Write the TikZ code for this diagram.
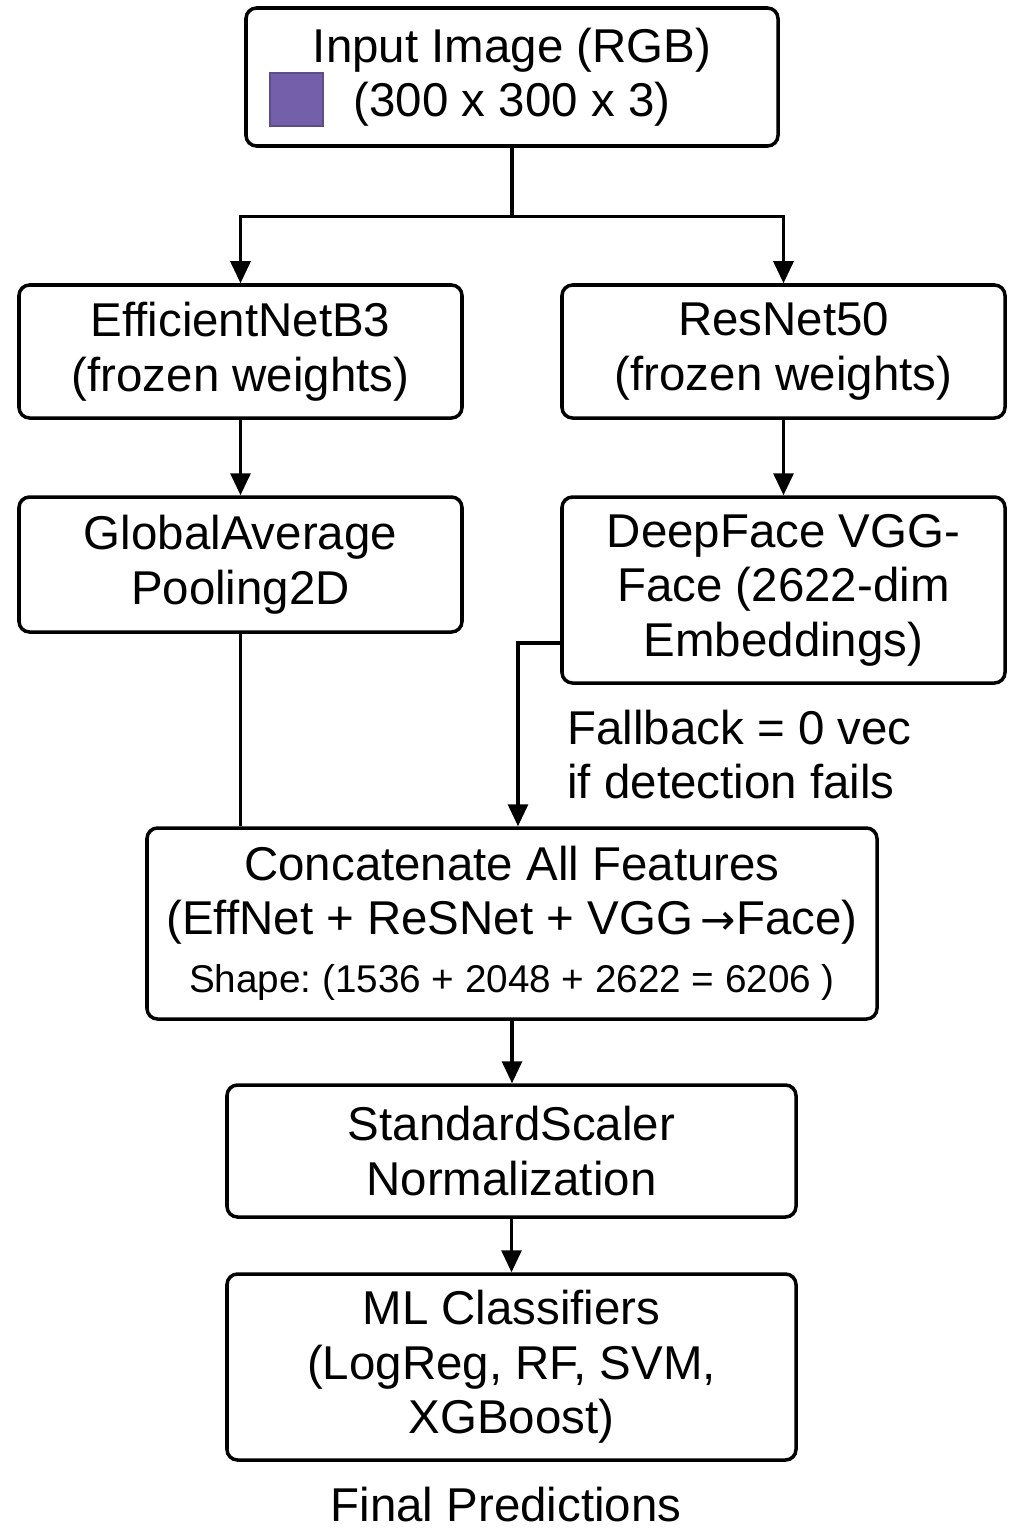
\documentclass[tikz,border=0pt]{standalone}
\usepackage{fontspec}
\setmainfont{Liberation Sans}
\newfontfamily\arrowfont{DejaVu Sans}
\usetikzlibrary{arrows.meta, positioning, calc}
\definecolor{imgpurple}{RGB}{116,96,170}
\frenchspacing
\newcommand{\boxfont}{\fontsize{13.5}{15.5}\selectfont}
\newcommand{\shapefont}{\fontsize{11}{13}\selectfont}
\tikzset{
    stagebox/.style={rectangle, rounded corners=3pt, draw=black, line width=1pt, align=center, font=\boxfont, inner sep=0pt},
    arrow/.style={-{Triangle[length=2.2mm, width=2mm]}, line width=0.9pt},
    plainline/.style={line width=0.9pt},
}
\begin{document}
\begin{tikzpicture}[
    x=1mm, y=1mm,
    lbl/.style={font=\boxfont, align=left},
    narrow/.style={stagebox, minimum width=44.3mm}
]
\useasboundingbox (0,0) rectangle (102.4,-153.6);

% Input image
\node[stagebox, minimum width=53.2mm, minimum height=13.8mm] (inp) at (51.2,-7.7) {Input Image (RGB)\\(300 x 300 x 3)};
\node[draw=imgpurple!80!black, fill=imgpurple, line width=0.3pt, minimum size=5.3mm, inner sep=0pt] (sq) at (29.65,-9.95) {};

% Two backbones
\node[narrow, minimum height=13.3mm] (eff) at (24.05,-35.15) {EfficientNetB3\\(frozen weights)};
\node[narrow, minimum height=13.3mm] (res) at (78.35,-35.15) {ResNet50\\(frozen weights)};

% Feature heads
\node[narrow, minimum height=13.5mm] (gap) at (24.05,-56.45) {GlobalAverage\\Pooling2D};
\node[narrow, minimum height=18.6mm] (dfc) at (78.35,-59.0) {DeepFace VGG-\\Face (2622-dim\\Embeddings)};
\node[lbl, anchor=west] (fb) at (55.5,-75.45) {Fallback = 0 vec\\if detection fails};

% Fusion and classifiers
\node[stagebox, minimum width=73mm, minimum height=19.1mm] (cat) at (51.2,-92.35) {Concatenate All Features\\(EffNet + ReSNet + VGG\,{\arrowfont\fontsize{12}{14}\selectfont →}Face)\\[1pt]{\shapefont Shape: (1536 + 2048 + 2622 = 6206 )}};
\node[stagebox, minimum width=56.9mm, minimum height=13.2mm] (scl) at (51.15,-115.1) {StandardScaler\\Normalization};
\node[stagebox, minimum width=56.9mm, minimum height=18.6mm] (mlc) at (51.15,-136.7) {ML Classifiers\\(LogReg, RF, SVM,\\XGBoost)};
\node[font=\boxfont] (fin) at (50.6,-150.5) {Final Predictions};

% Arrows
\coordinate (split) at ($(inp.south)+(0,-6.9)$);
\draw[plainline] (inp.south) -- (split);
\draw[arrow] (split) -| (eff.north);
\draw[arrow] (split) -| (res.north);
\draw[arrow] (eff.south) -- (gap.north);
\draw[arrow] (res.south) -- (dfc.north);
\draw[plainline] (gap.south) -- (gap.south |- cat.north);
\draw[arrow] ([yshift=-5.3mm]dfc.west) -| ([xshift=0.6mm]cat.north);
\draw[arrow] (cat.south) -- (cat.south |- scl.north);
\draw[arrow] (scl.south) -- (scl.south |- mlc.north);

\end{tikzpicture}
\end{document}
